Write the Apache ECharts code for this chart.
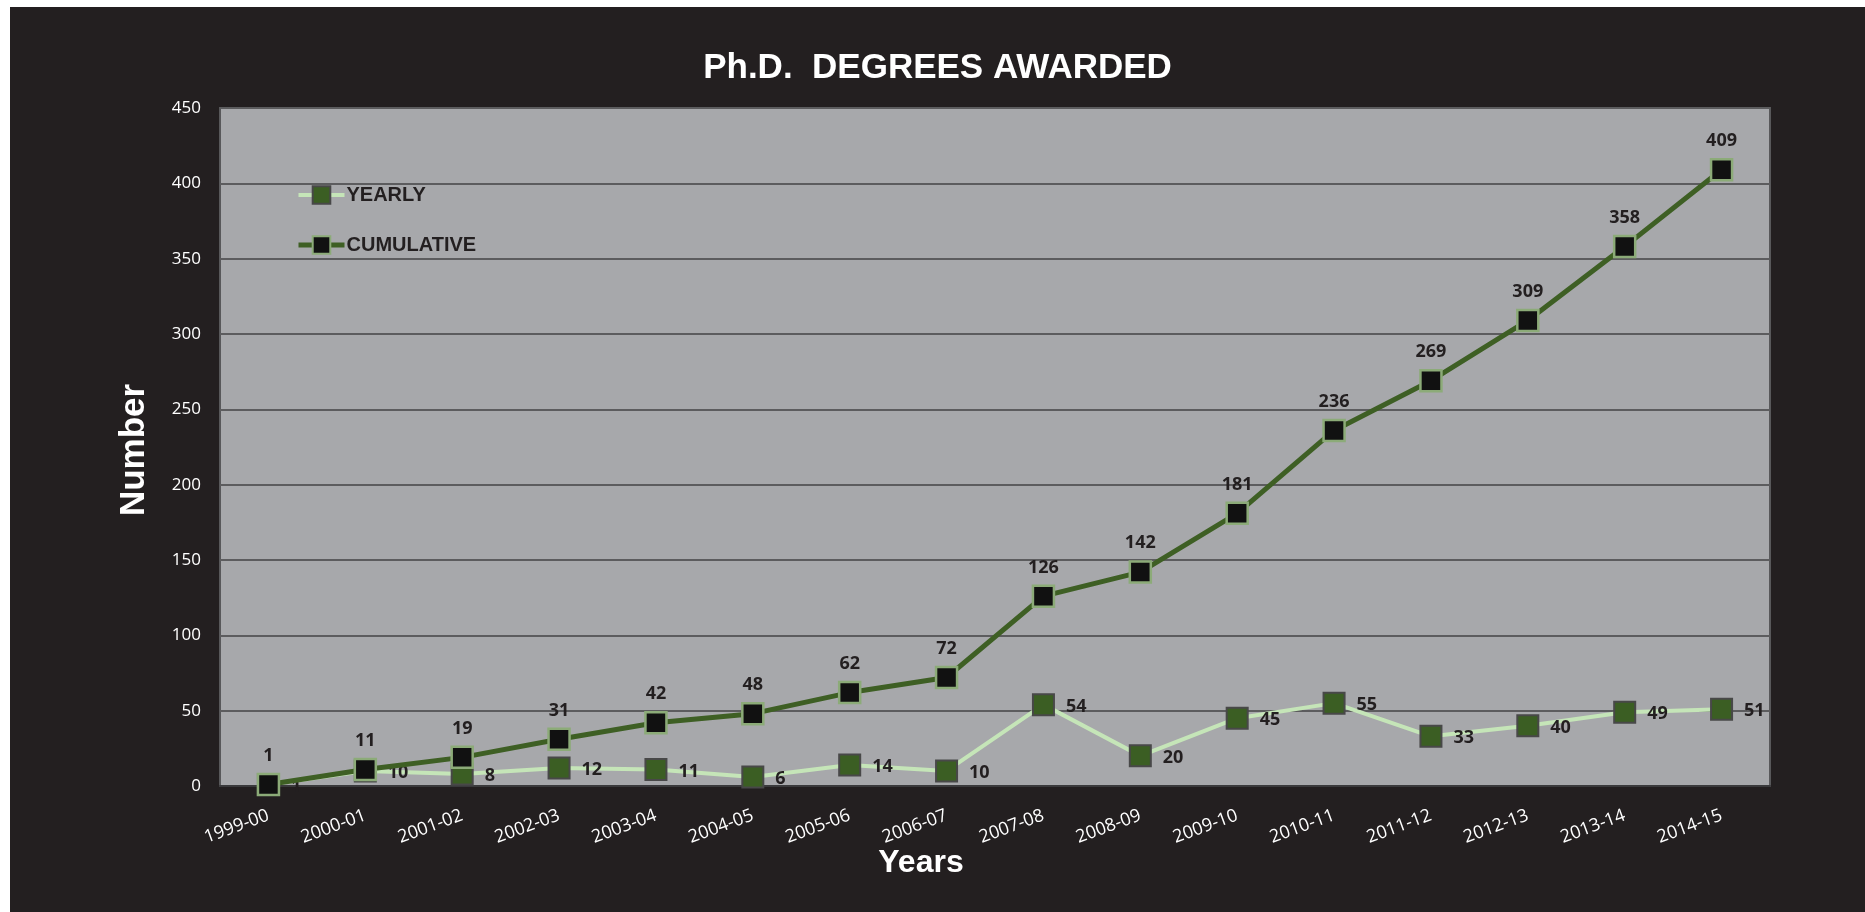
<!DOCTYPE html>
<html>
<head>
<meta charset="utf-8">
<title>Ph.D. Degrees Awarded</title>
<script src="https://cdn.jsdelivr.net/npm/echarts@6/dist/echarts.min.js"></script>
<style>
  html, body {
    margin: 0;
    padding: 0;
    background: #fff;
  }
  #chartContainer {
    position: absolute;
    left: 10px;
    top: 7px;
    width: 1855px;
    height: 905px;
    background: #231f20;
  }
</style>
</head>
<body>
<div id="chartContainer"></div>
<script>
// 数据
const years = ['1999-00', '2000-01', '2001-02', '2002-03', '2003-04', '2004-05', '2005-06', '2006-07',
  '2007-08', '2008-09', '2009-10', '2010-11', '2011-12', '2012-13', '2013-14', '2014-15'];
const yearlyData = [1, 10, 8, 12, 11, 6, 14, 10, 54, 20, 45, 55, 33, 40, 49, 51];
const cumulativeData = [1, 11, 19, 31, 42, 48, 62, 72, 126, 142, 181, 236, 269, 309, 358, 409];
const yTicks = { min: 0, max: 450, interval: 50 };

const chart = echarts.init(document.getElementById('chartContainer'));

const labelStyle = {
  show: true,
  color: '#231f20',
  fontFamily: 'Open Sans',
  fontWeight: 'bold',
  fontSize: 18
};

const chartOptions = {
  backgroundColor: '#231f20',
  animation: false,
  title: {
    text: 'Ph.D.  DEGREES AWARDED',
    left: 'center',
    top: 39,
    textStyle: {
      color: '#fff',
      fontFamily: 'Liberation Sans',
      fontWeight: 'bold',
      fontSize: 35
    }
  },
  legend: {
    orient: 'vertical',
    left: 286,
    top: 178,
    padding: 0,
    itemWidth: 46,
    itemHeight: 22,
    itemGap: 30,
    textStyle: {
      color: '#231f20',
      fontFamily: 'Liberation Sans',
      fontWeight: 'bold',
      fontSize: 20,
      padding: [0, 0, 0, -3]
    },
    data: [
      { name: 'YEARLY', lineStyle: { width: 4 } },
      { name: 'CUMULATIVE', lineStyle: { width: 5 } }
    ]
  },
  grid: {
    left: 210,
    right: 95,
    top: 101,
    bottom: 126,
    show: true,
    backgroundColor: '#a7a8ab',
    borderColor: '#58585a',
    borderWidth: 2
  },
  xAxis: {
    type: 'category',
    data: years,
    axisLine: { lineStyle: { color: '#3a3a3c', width: 2 } },
    axisTick: { show: false },
    axisLabel: {
      color: '#fff',
      fontFamily: 'Open Sans',
      fontSize: 18,
      rotate: 20,
      margin: 29,
      interval: 0
    }
  },
  yAxis: {
    type: 'value',
    min: yTicks.min,
    max: yTicks.max,
    interval: yTicks.interval,
    axisLine: { show: false },
    axisTick: { show: false },
    axisLabel: {
      color: '#fff',
      fontFamily: 'Open Sans',
      fontSize: 17,
      margin: 19
    },
    splitLine: {
      show: true,
      lineStyle: { color: '#5c5c5e', width: 2 }
    }
  },
  graphic: [
    {
      type: 'text',
      x: 124,
      y: 443,
      rotation: Math.PI / 2,
      style: {
        text: 'Number',
        fill: '#fff',
        font: 'bold 35px "Liberation Sans"',
        textAlign: 'center',
        textVerticalAlign: 'middle'
      }
    },
    {
      type: 'text',
      x: 911,
      y: 856,
      style: {
        text: 'Years',
        fill: '#fff',
        font: 'bold 32px "Liberation Sans"',
        textAlign: 'center',
        textVerticalAlign: 'middle'
      }
    }
  ],
  series: [
    // 每年
    {
      name: 'YEARLY',
      type: 'line',
      data: yearlyData,
      symbol: 'rect',
      symbolSize: 21,
      z: 2,
      lineStyle: { color: '#c5e5b8', width: 4 },
      itemStyle: { color: '#3b5e23', borderColor: '#484848', borderWidth: 2 },
      label: Object.assign({}, labelStyle, { position: 'right', distance: 11, offset: [0, 2] })
    },
    // 累计
    {
      name: 'CUMULATIVE',
      type: 'line',
      data: cumulativeData,
      symbol: 'rect',
      symbolSize: 21,
      z: 3,
      lineStyle: { color: '#3e5f24', width: 5 },
      itemStyle: { color: '#111111', borderColor: '#8cab78', borderWidth: 2.5 },
      label: Object.assign({}, labelStyle, { position: 'top', distance: 8 })
    }
  ]
};

chart.setOption(chartOptions);
window.onresize = function() {
  chart.resize();
};
</script>
</body>
</html>
